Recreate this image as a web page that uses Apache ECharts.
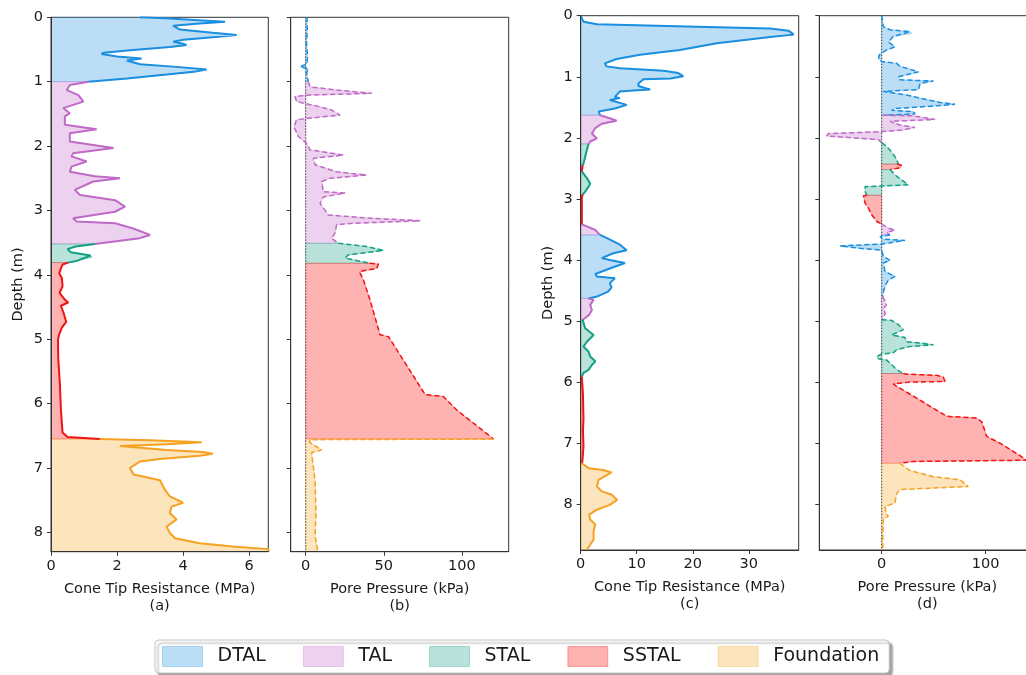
<!DOCTYPE html>
<html><head><meta charset="utf-8">
<script src="https://cdn.jsdelivr.net/npm/echarts@6/dist/echarts.min.js"></script>
<style>html,body{margin:0;padding:0;background:#fff;overflow:hidden}#c{width:1026px;height:675px}</style>
</head><body><div id="c"></div>
<script>
// ---------- classes & colours ----------
const classes = ['DTAL','TAL','STAL','SSTAL','Foundation'];
const lineColors = {DTAL:'#1a8fe0', TAL:'#c06ac8', STAL:'#14a083', SSTAL:'#f01414', Foundation:'#f5a223'};
const fillColors = {DTAL:'rgba(31,143,224,0.3)', TAL:'rgba(192,106,200,0.3)', STAL:'rgba(20,160,131,0.3)', SSTAL:'rgba(255,0,0,0.3)', Foundation:'rgba(245,165,35,0.3)'};

// ---------- tick labels ----------
const depthTicks = [0,1,2,3,4,5,6,7,8];
const aTicks = [0,2,4,6];
const bTicks = [0,50,100];
const cTicks = [0,10,20,30];
const dTicks = [0,100];

// ---------- panel (a): cone tip resistance (MPa), [value, depth m] ----------
const aDTAL = [[2.7,0.0],[3.6,0.02],[4.6,0.05],[5.27,0.07],[4.4,0.10],[3.7,0.13],[3.65,0.155],[3.9,0.19],[4.9,0.24],[5.62,0.275],[4.9,0.31],[4.0,0.35],[3.7,0.38],[4.0,0.41],[4.1,0.43],[3.6,0.46],[2.4,0.51],[1.6,0.55],[1.53,0.57],[2.0,0.61],[2.74,0.64],[2.3,0.67],[2.24,0.69],[2.7,0.73],[3.8,0.77],[4.71,0.81],[4.4,0.84],[3.5,0.89],[2.3,0.95],[1.13,1.0]];
const aTAL = [[1.13,1.0],[0.57,1.05],[0.48,1.13],[0.83,1.21],[0.98,1.31],[0.37,1.41],[0.57,1.49],[0.42,1.54],[0.42,1.67],[1.38,1.74],[0.57,1.80],[0.57,1.93],[1.89,2.03],[0.67,2.11],[0.62,2.16],[1.08,2.24],[0.62,2.32],[0.57,2.40],[1.33,2.47],[2.09,2.50],[1.28,2.55],[0.72,2.68],[0.88,2.76],[1.94,2.84],[2.24,2.94],[1.94,3.02],[0.67,3.12],[0.77,3.17],[1.94,3.20],[2.49,3.28],[3.0,3.38],[2.69,3.43],[1.33,3.52]];
const aSTAL = [[1.33,3.52],[0.75,3.56],[0.5,3.60],[0.6,3.65],[1.2,3.70],[1.25,3.73],[0.8,3.78],[0.52,3.81]];
const aSSTAL = [[0.52,3.81],[0.35,3.84],[0.3,3.9],[0.25,3.98],[0.33,4.05],[0.35,4.18],[0.26,4.28],[0.41,4.38],[0.52,4.43],[0.3,4.48],[0.38,4.59],[0.46,4.73],[0.33,4.82],[0.25,4.92],[0.21,5.01],[0.22,5.3],[0.27,5.7],[0.3,6.1],[0.35,6.45],[0.5,6.52],[1.48,6.55]];
const aFoundation = [[1.48,6.55],[3.0,6.57],[4.56,6.60],[3.5,6.63],[2.1,6.66],[2.05,6.68],[3.5,6.72],[4.6,6.75],[4.9,6.78],[4.5,6.81],[3.3,6.86],[2.69,6.90],[2.39,7.00],[2.5,7.10],[3.3,7.19],[3.45,7.34],[3.6,7.44],[4.0,7.54],[3.65,7.60],[3.6,7.70],[3.8,7.80],[3.5,7.91],[3.6,8.01],[3.76,8.09],[4.5,8.17],[5.5,8.22],[6.58,8.26],[6.6,8.30]];

// ---------- panel (b): pore pressure (kPa) ----------
const bDTAL = [[0.8,0],[1.0,0.2],[0.5,0.4],[1.2,0.6],[0.8,0.72],[-3.5,0.77],[1.8,0.80],[0.6,0.86],[1.2,0.95],[1.7,1.0]];
const bTAL = [[1.7,1.0],[2.8,1.08],[19.8,1.13],[42.3,1.18],[0.6,1.21],[-6.9,1.23],[-5.8,1.31],[9.2,1.39],[16.6,1.44],[22,1.52],[9.2,1.55],[-5.8,1.59],[-7.5,1.70],[-4.7,1.85],[0.6,1.96],[2.8,2.06],[24.2,2.14],[4.9,2.19],[6.0,2.29],[19.8,2.40],[39,2.45],[15.6,2.50],[10.3,2.55],[11.3,2.71],[25.2,2.73],[11.3,2.79],[9.2,2.89],[14.5,3.07],[41.2,3.12],[73.3,3.16],[30.5,3.20],[19.8,3.22],[18.8,3.35],[16.6,3.43],[20.9,3.51]];
const bSTAL = [[20.9,3.51],[39,3.56],[49.8,3.62],[27.3,3.69],[25.2,3.74],[41.2,3.82]];
const bSSTAL = [[41.2,3.82],[46.6,3.83],[45.5,3.90],[34.4,3.95],[37,4.08],[41.2,4.39],[47.6,4.93],[53,4.96],[76.5,5.86],[88.2,5.89],[96.8,6.10],[120.3,6.55]];
const bFoundation = [[120.3,6.55],[2.8,6.56],[2.4,6.60],[10.3,6.72],[3.8,6.76],[4.9,6.98],[6.0,7.19],[6.6,7.70],[6.0,8.06],[7.5,8.25],[7.5,8.30]];

// ---------- panel (c): cone tip resistance (MPa) ----------
const cDTAL1 = [[0,0],[0.5,0.1],[2.9,0.14],[20.7,0.18],[33.8,0.21],[37.1,0.245],[38.0,0.31],[33.8,0.35],[24.3,0.45],[17.7,0.56],[10.6,0.64],[6.4,0.71],[4.3,0.78],[4.6,0.83],[7.0,0.86],[14.8,0.90],[17.4,0.94],[18.3,0.99],[16.0,1.03],[11.2,1.04],[10.3,1.11],[10.3,1.15],[12.4,1.21],[10.0,1.22],[7.0,1.24],[6.1,1.33],[7.0,1.35],[5.2,1.38],[8.2,1.46],[6.1,1.52],[3.2,1.57],[3.45,1.63]];
const cTAL1 = [[3.45,1.63],[5.2,1.68],[6.4,1.72],[3.75,1.77],[2.6,1.84],[2.0,1.93],[2.9,2.01],[1.7,2.06],[1.4,2.10]];
const cSTAL1 = [[1.4,2.10],[1.1,2.20],[0.8,2.31],[0.5,2.42],[0.35,2.45]];
const cSSTAL1 = [[0.35,2.45],[0.2,2.48],[0.2,2.55]];
const cSTAL2 = [[0.2,2.55],[0.5,2.58],[1.1,2.66],[1.7,2.75],[1.4,2.80],[0.8,2.88],[0.35,2.93]];
const cSSTAL2 = [[0.35,2.93],[0.2,2.97],[0.2,3.2],[0.2,3.42]];
const cTAL2 = [[0.2,3.42],[1.1,3.45],[2.6,3.51],[3.45,3.59]];
const cDTAL2 = [[3.45,3.59],[4.6,3.64],[7.0,3.75],[8.2,3.84],[5.8,3.89],[3.75,3.97],[5.2,4.0],[7.9,4.05],[5.2,4.14],[2.6,4.23],[2.9,4.27],[6.1,4.30],[5.2,4.38],[5.5,4.45],[4.9,4.52],[2.9,4.60],[1.4,4.63]];
const cTAL3 = [[1.4,4.63],[2.3,4.65],[1.7,4.74],[2.0,4.82],[1.5,4.90],[0.8,4.95],[0.35,4.98]];
const cSTAL3 = [[0.35,4.98],[0.2,5.01],[0.8,5.12],[2.3,5.23],[1.1,5.34],[0.5,5.42],[1.4,5.50],[1.7,5.58],[2.6,5.66],[2.0,5.72],[1.4,5.80],[0.5,5.85],[0.2,5.91]];
const cSSTAL3 = [[0.2,5.91],[0.4,6.2],[0.5,6.6],[0.4,6.8],[0.5,7.05],[0.3,7.3],[0.2,7.33]];
const cFoundation = [[0.2,7.33],[1.4,7.41],[4.0,7.44],[5.5,7.48],[3.2,7.60],[2.9,7.71],[3.75,7.79],[5.5,7.84],[6.5,7.93],[5.2,8.01],[2.9,8.09],[1.5,8.17],[1.7,8.25],[2.6,8.33],[2.3,8.44],[2.3,8.58],[1.7,8.66],[1.1,8.75]];

// ---------- panel (d): pore pressure (kPa) ----------
const dDTAL1 = [[0,0],[1.6,0.18],[8,0.23],[27.2,0.26],[28.8,0.29],[11.2,0.34],[6.4,0.43],[12.8,0.51],[4.8,0.56],[-2.2,0.64],[-3.2,0.71],[0,0.75],[14.4,0.78],[17.6,0.83],[24,0.86],[35.3,0.92],[16,1.0],[17.6,1.05],[49.7,1.07],[36.9,1.11],[35.3,1.21],[1.6,1.24],[24,1.30],[36.9,1.35],[56,1.42],[70.5,1.45],[49.7,1.48],[12.8,1.52],[9.6,1.55],[30.4,1.57],[32,1.61],[1.6,1.63]];
const dTAL1 = [[1.6,1.63],[30.4,1.64],[51.3,1.70],[8,1.73],[17.6,1.79],[32,1.83],[20.8,1.87],[0,1.90],[-51.3,1.93],[-52.9,1.97],[-3.2,2.03],[0,2.08]];
const dSTAL1 = [[0,2.08],[3.2,2.12],[8,2.20],[12.8,2.31],[16,2.42],[15,2.43]];
const dSSTAL1 = [[15,2.43],[19,2.45],[18,2.49],[8,2.52]];
const dSTAL2 = [[8,2.52],[8.0,2.55],[14.4,2.63],[25.6,2.77],[-1.6,2.79],[-16,2.80],[-16,2.88],[-14.4,2.94]];
const dSSTAL2 = [[-14.4,2.94],[-17.6,2.95],[-16,3.07],[-12.8,3.15],[-9.6,3.26],[-4.8,3.37],[0,3.41]];
const dTAL2 = [[0,3.41],[6.4,3.48],[12.8,3.51],[4.8,3.55],[8,3.59]];
const dDTAL2 = [[8,3.59],[-1.6,3.62],[1.6,3.66],[22.4,3.68],[8,3.72],[0,3.74],[-40,3.77],[-20.8,3.81],[0,3.84],[1.6,3.94],[8,4.01],[1.6,4.05],[3.2,4.19],[12.8,4.27],[6.4,4.33],[4,4.40],[2,4.50],[1,4.6]];
const dTAL3 = [[1,4.6],[3,4.67],[4.5,4.73],[2,4.8],[3.5,4.88],[1,4.95],[0,4.98]];
const dSTAL3 = [[0,4.98],[9.6,4.99],[16,5.06],[20.8,5.14],[9.6,5.23],[22.4,5.27],[24,5.34],[36.9,5.36],[49.7,5.39],[25.6,5.42],[14.4,5.47],[11.2,5.52],[0,5.54],[-4.8,5.58],[-3.2,5.62],[4.8,5.64],[8,5.69],[12.8,5.77],[17.6,5.83],[20.8,5.86]];
const dSSTAL3 = [[20.8,5.86],[24,5.87],[52.9,5.89],[59.3,5.92],[60.9,5.99],[27.2,6.0],[11.2,6.03],[14.4,6.07],[30.4,6.23],[62.5,6.56],[91.3,6.59],[96.2,6.65],[101,6.89],[113.8,7.0],[129.8,7.17],[139.4,7.28],[30.4,7.30],[17.6,7.33]];
const dFoundation = [[17.6,7.33],[27.2,7.45],[49.7,7.55],[75.3,7.60],[83.3,7.71],[17.6,7.76],[14.4,7.82],[12.8,7.98],[3.2,8.04],[4.2,8.15],[6.4,8.20],[1.6,8.25],[1.0,8.58],[1.0,8.75]];

const panelA = [['DTAL',aDTAL],['TAL',aTAL],['STAL',aSTAL],['SSTAL',aSSTAL],['Foundation',aFoundation]];
const panelB = [['DTAL',bDTAL],['TAL',bTAL],['STAL',bSTAL],['SSTAL',bSSTAL],['Foundation',bFoundation]];
const panelC = [['DTAL',cDTAL1],['TAL',cTAL1],['STAL',cSTAL1],['SSTAL',cSSTAL1],['STAL',cSTAL2],['SSTAL',cSSTAL2],['TAL',cTAL2],['DTAL',cDTAL2],['TAL',cTAL3],['STAL',cSTAL3],['SSTAL',cSSTAL3],['Foundation',cFoundation]];
const panelD = [['DTAL',dDTAL1],['TAL',dTAL1],['STAL',dSTAL1],['SSTAL',dSSTAL1],['STAL',dSTAL2],['SSTAL',dSSTAL2],['TAL',dTAL2],['DTAL',dDTAL2],['TAL',dTAL3],['STAL',dSTAL3],['SSTAL',dSSTAL3],['Foundation',dFoundation]];

// ---------- build ----------
const FONT = 'DejaVu Sans';
const TXT = '#1a1a1a';
const series = [];

function addPanel(gi, segs, dashed, zeroLine, depthMax) {
  series.push({
    type:'custom', xAxisIndex:gi, yAxisIndex:gi, clip:true, silent:true, z:1, animation:false,
    data: segs.map((s,i)=>[i]),
    renderItem: function(params, api){
      const seg = segs[params.dataIndex];
      const pts = seg[1].map(p => api.coord([p[0], p[1]]));
      const first = seg[1][0], last = seg[1][seg[1].length-1];
      pts.push(api.coord([0, last[1]]));
      pts.push(api.coord([0, first[1]]));
      return {type:'polygon', shape:{points:pts}, style:{fill:fillColors[seg[0]], stroke:fillColors[seg[0]], lineWidth:1}};
    }
  });
  if (zeroLine) {
    series.push({type:'line', xAxisIndex:gi, yAxisIndex:gi, data:[[0,0],[0,depthMax]], symbol:'none', silent:true, z:2, animation:false,
      lineStyle:{color:'#444', width:1, type:[1.5,1.5]}});
  }
  segs.forEach(seg => {
    series.push({type:'line', name:seg[0], xAxisIndex:gi, yAxisIndex:gi, data:seg[1], symbol:'none', showSymbol:false, z:3, animation:false, silent:true,
      lineStyle:{color:lineColors[seg[0]], width: dashed ? 1.5 : 2, type: dashed ? [5,3] : 'solid'}});
  });
}
addPanel(0, panelA, false, false, 8.30);
addPanel(1, panelB, true, true, 8.30);
addPanel(2, panelC, false, false, 8.75);
addPanel(3, panelD, true, true, 8.75);

function xAxis(gi, min, max, ticks, name) {
  return {type:'value', gridIndex:gi, min:min, max:max, z:10,
    axisLine:{show:true, onZero:false, lineStyle:{color:'#333', width:1}},
    axisTick:{show:true, length:4, customValues:ticks, lineStyle:{color:'#333'}},
    axisLabel:{customValues:ticks, margin:7, fontSize:14.5, fontFamily:FONT, color:TXT},
    splitLine:{show:false},
    name:name, nameLocation:'middle', nameGap:29,
    nameTextStyle:{fontSize:14.5, fontFamily:FONT, color:TXT, lineHeight:17, align:'center'}};
}
function yAxis(gi, max, labels, name) {
  return {type:'value', gridIndex:gi, min:0, max:max, inverse:true, z:10,
    axisLine:{show:true, onZero:false, lineStyle:{color:'#333', width:1}},
    axisTick:{show:true, length:4, customValues:depthTicks, lineStyle:{color:'#333'}},
    axisLabel:{show:labels, customValues:depthTicks, margin:8, fontSize:14.5, fontFamily:FONT, color:TXT},
    splitLine:{show:false},
    name:name, nameLocation:'middle', nameGap:25, nameRotate:90,
    nameTextStyle:{fontSize:14.5, fontFamily:FONT, color:TXT}};
}

const gridStyle = {show:true, borderColor:'#333', borderWidth:1, backgroundColor:'transparent', containLabel:false, outerBoundsMode:'none'};
const option = {
  animation:false,
  backgroundColor:'#fff',
  textStyle:{fontFamily:FONT},
  grid:[
    Object.assign({left:51, top:17.3, width:217.3, height:534.4}, gridStyle),
    Object.assign({left:290.7, top:17.3, width:218, height:534.4}, gridStyle),
    Object.assign({left:580.7, top:15.7, width:218, height:534.3}, gridStyle),
    Object.assign({left:819.3, top:15.7, width:216, height:534.3}, gridStyle)
  ],
  xAxis:[
    xAxis(0, 0, 6.58, aTicks, 'Cone Tip Resistance (MPa)\n(a)'),
    xAxis(1, -9.6, 130, bTicks, 'Pore Pressure (kPa)\n(b)'),
    xAxis(2, 0, 38.9, cTicks, 'Cone Tip Resistance (MPa)\n(c)'),
    xAxis(3, -60, 147.7, dTicks, 'Pore Pressure (kPa)\n(d)')
  ],
  yAxis:[
    yAxis(0, 8.30, true, 'Depth (m)'),
    yAxis(1, 8.30, false, ''),
    yAxis(2, 8.75, true, 'Depth (m)'),
    yAxis(3, 8.75, false, '')
  ],
  legend:{
    left:155, top:640, orient:'horizontal', selectedMode:false,
    padding:[6,10,6,7], itemWidth:40, itemHeight:20, itemGap:37,
    backgroundColor:'#fff', borderColor:'#c4c4c4', borderWidth:1, borderRadius:4,
    shadowColor:'rgba(0,0,0,0.35)', shadowBlur:2, shadowOffsetX:3, shadowOffsetY:3,
    textStyle:{fontSize:19, fontFamily:FONT, color:TXT, padding:[0,0,0,10]},
    data: classes.map(c => ({name:c, icon:'rect', itemStyle:{color:fillColors[c], borderColor:fillColors[c], borderWidth:1}}))
  },
  series: series
};
const chart = echarts.init(document.getElementById('c'), null, {renderer:'canvas'});
chart.setOption(option);
</script>
</body></html>
